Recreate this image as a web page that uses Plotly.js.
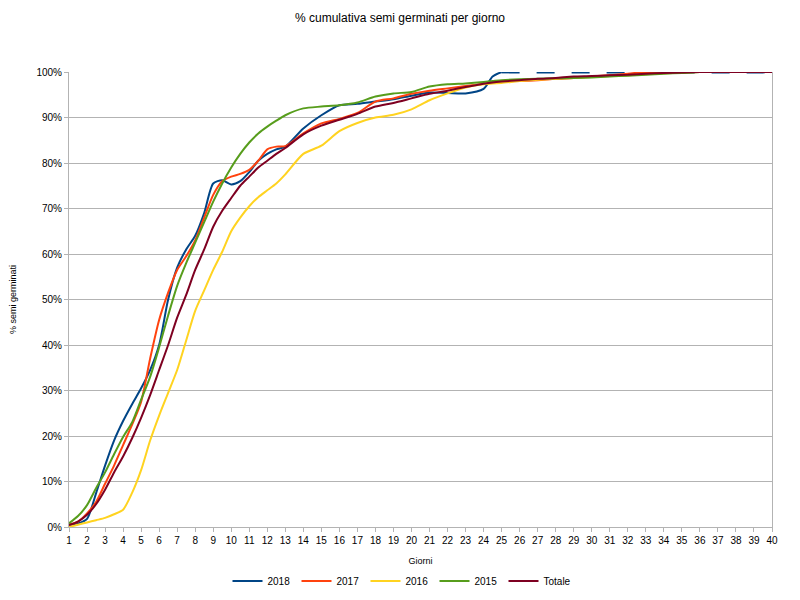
<!DOCTYPE html>
<html>
<head>
<meta charset="utf-8">
<script src="https://cdn.plot.ly/plotly-3.0.1.min.js"></script>
<style>html,body{margin:0;padding:0;background:#fff;}#chart{width:800px;height:600px;}</style>
</head>
<body>
<div id="chart"></div>
<script>
// Days (x values)
var days = [1,1.5,2,2.5,3,3.5,4,4.5,5,5.5,6,6.5,7,7.5,8,8.5,9,9.5,10,10.5,11,11.5,12,12.5,13,
            14,15,16,17,18,19,20,21,22,23,24,24.5,25,26,27,28,29,30,31,32,33,34,35,36,37,38,39,40];

var v2018 = [0.5,0.8,1.8,7.4,13.5,19,23.3,27,30.5,34.5,40,50,57,61,64,69,75.5,76.2,75.3,76,78,80.5,82,83,83.6,
             87.6,90.5,92.7,93,93.5,94,94.8,95.5,95.4,95.3,96.3,99,100,
             null,null,null,null,null,null,null,null,null,null,null,null,null,null,null];
var v2017 = [0.5,1.2,3,5.5,9.5,13.5,18,22.5,27.5,37,45.5,51.5,56.5,59.5,63,68,73,76,77,77.6,78.5,80.5,83,83.6,83.7,
             86.5,88.7,89.7,91,93.5,94.2,95.2,95.9,96.4,96.9,97.4,97.7,97.9,98,98.2,98.5,98.7,99,99.3,99.6,100,100,100,100,100,100,100,100];
var v2016 = [0,0.5,1,1.5,2,2.8,3.8,7.5,12.5,19,24.5,29.5,34.5,41,47.5,52,56.5,60.5,65,68,70.5,72.5,74,75.5,77.5,
             82,83.8,87,88.8,90,90.6,91.8,93.8,95.3,96.6,97.3,97.5,97.6,98,98.3,98.5,98.7,98.9,99.1,99.3,99.5,99.7,99.9,100,100,100,100,100];
var v2015 = [0.8,2.4,4.8,8.5,12,16,19.8,23,28,33,39.5,46.5,53,58,62.5,67,71.5,75.5,79,82,84.5,86.5,88,89.3,90.5,
             92,92.4,92.7,93.3,94.6,95.3,95.6,96.8,97.3,97.5,97.8,98,98.2,98.4,98.5,98.6,98.7,98.8,99,99.2,99.4,99.6,99.8,100,100,100,100,100];
var vTot  = [0.4,1.2,2.7,5,8.2,12,15.5,19.5,24,29,34.5,40,46,51,56.5,61,66,69.5,72.3,75,77,79,80.5,82,83.3,
             86.3,88.2,89.5,90.8,92.4,93.2,94.2,95.2,95.9,96.7,97.4,97.7,97.9,98.2,98.5,98.7,99,99.1,99.3,99.4,99.6,99.8,99.9,100,100,100,100,100];

// 2018 dashed continuation after last observation
var dash2018Days = [25,40];
var dash2018Vals = [100,100];

var seriesNames = ['2018','2017','2016','2015','Totale'];
var colors = ['#004586','#ff420e','#ffd320','#579d1c','#7e0021'];
var values = [v2018,v2017,v2016,v2015,vTot];

var traces = [{
  x: dash2018Days, y: dash2018Vals, type: 'scatter', mode: 'lines',
  line: {color: colors[0], width: 2.8, dash: '18px,17px'},
  showlegend: false, hoverinfo: 'skip'
}];
for (var i = 0; i < seriesNames.length; i++) {
  traces.push({
    x: days, y: values[i], name: seriesNames[i], type: 'scatter', mode: 'lines',
    connectgaps: false,
    line: {color: colors[i], width: 2, shape: 'spline', smoothing: 0.7}
  });
}

var font = {family: '"Liberation Sans", Arial, sans-serif', size: 10, color: '#000'};
var layout = {
  width: 800, height: 600,
  paper_bgcolor: '#fff', plot_bgcolor: '#fff',
  font: font,
  margin: {l: 69, r: 28, t: 72, b: 73, pad: 0},
  title: {text: '% cumulativa semi germinati per giorno', font: {family: font.family, size: 12, color: '#000'},
          x: 0.5, xref: 'container', y: 1 - 18/600, yref: 'container', yanchor: 'middle'},
  xaxis: {
    range: [1, 40], tickmode: 'linear', tick0: 1, dtick: 1,
    showgrid: false, zeroline: false, showline: true, linecolor: '#b3b3b3', linewidth: 1,
    ticks: 'outside', ticklen: 4, tickcolor: '#b3b3b3',
    tickfont: {family: font.family, size: 10, color: '#000'},
    title: {text: 'Giorni', font: {family: font.family, size: 9, color: '#000'}, standoff: 18}
  },
  yaxis: {
    range: [0, 100], tickmode: 'linear', tick0: 0, dtick: 10, ticksuffix: '%',
    showgrid: true, gridcolor: '#b3b3b3', gridwidth: 1, zeroline: false,
    showline: true, mirror: true, linecolor: '#b3b3b3', linewidth: 1,
    ticks: 'outside', ticklen: 4, tickcolor: '#b3b3b3',
    tickfont: {family: font.family, size: 10, color: '#000'},
    title: {text: '% semi germinati', font: {family: font.family, size: 9, color: '#000'}, standoff: 18}
  },
  legend: {orientation: 'h', xref: 'container', x: 0.5, xanchor: 'center',
           yref: 'container', y: 1 - 581/600, yanchor: 'middle',
           entrywidth: 24, entrywidthmode: 'pixels',
           font: {family: font.family, size: 10, color: '#000'}, itemwidth: 30, traceorder: 'normal'},
  showlegend: true
};

Plotly.newPlot('chart', traces, layout, {displayModeBar: false, staticPlot: true});
</script>
</body>
</html>
